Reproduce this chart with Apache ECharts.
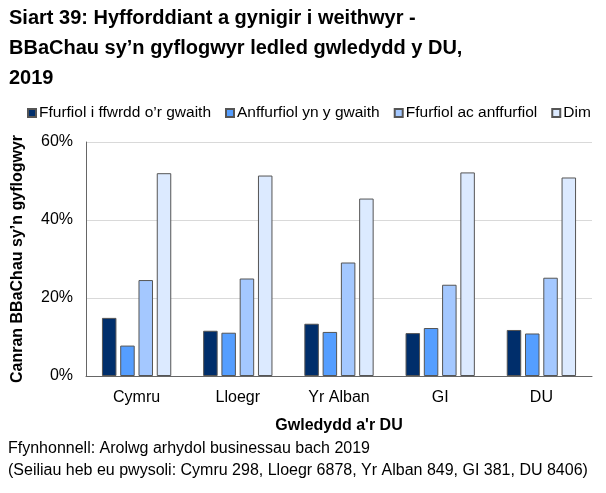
<!DOCTYPE html>
<html><head><meta charset="utf-8">
<script src="https://cdn.jsdelivr.net/npm/echarts@6/dist/echarts.min.js"></script>
<style>html,body{margin:0;padding:0;background:#fff}#c{width:606px;height:493px}</style>
</head><body><div id="c"></div>
<script>
const categories = ['Cymru', 'Lloegr', 'Yr Alban', 'GI', 'DU'];
const seriesNames = ['Ffurfiol i ffwrdd o\u2019r gwaith', 'Anffurfiol yn y gwaith', 'Ffurfiol ac anffurfiol', 'Dim'];
const formalOff = [14.9, 11.6, 13.4, 11.0, 11.8];
const informalOn = [7.8, 11.1, 11.3, 12.3, 10.9];
const both = [24.6, 25.0, 29.1, 23.4, 25.2];
const none = [52.0, 51.4, 45.5, 52.2, 50.9];
const yTicks = [0, 20, 40, 60];
const colors = ['#002e6b', '#559eff', '#a4c8ff', '#dceaff'];
const values = [formalOff, informalOn, both, none];
const footer1 = 'Ffynhonnell: Arolwg arhydol businessau bach 2019';
const footer2 = '(Seiliau heb eu pwysoli: Cymru 298, Lloegr 6878, Yr Alban 849, GI 381, DU 8406)';

const font = 'Liberation Sans, Arial, sans-serif';
const chart = echarts.init(document.getElementById('c'));
chart.setOption({
  animation: false,
  textStyle: {fontFamily: font},
  title: {
    text: 'Siart 39: Hyfforddiant a gynigir i weithwyr -\nBBaChau sy\u2019n gyflogwyr ledled gwledydd y DU,\n2019',
    left: 4, top: -2,
    textStyle: {fontSize: 20, fontWeight: 'bold', color: '#000', lineHeight: 30, fontFamily: font}
  },
  legend: {
    top: 100, left: 22,
    itemWidth: 8, itemHeight: 8, itemGap: 14,
    icon: 'rect',
    textStyle: {fontSize: 15.5, color: '#000', fontFamily: font, padding: [0,0,0,-2]},
    data: seriesNames
  },
  grid: {left: 86, right: 14, top: 142, bottom: 117, containLabel: false},
  xAxis: {
    type: 'category', data: categories,
    name: 'Gwledydd a\'r DU', nameLocation: 'middle', nameGap: 42,
    nameTextStyle: {fontSize: 16, fontWeight: 'bold', color: '#000', fontFamily: font},
    axisLine: {lineStyle: {color: '#666'}},
    axisTick: {show: false},
    axisLabel: {fontSize: 16, color: '#000', margin: 14, fontFamily: font}
  },
  yAxis: {
    type: 'value', min: 0, max: 60, interval: 20,
    name: 'Canran BBaChau sy\u2019n gyflogwyr', nameLocation: 'middle', nameGap: 60,
    nameTextStyle: {fontSize: 16, fontWeight: 'bold', color: '#000', fontFamily: font},
    axisLine: {show: true, lineStyle: {color: '#666'}},
    axisTick: {show: false},
    axisLabel: {fontSize: 16, color: '#000', margin: 13, formatter: v => yTicks.includes(v) ? v + '%' : '', fontFamily: font},
    splitLine: {lineStyle: {color: '#d9d9d9'}}
  },
  graphic: [
    {type: 'text', left: 8, top: 441, style: {text: footer1, fontSize: 16, fill: '#000', fontFamily: font}},
    {type: 'text', left: 8, top: 463, style: {text: footer2, fontSize: 16, fill: '#000', fontFamily: font}}
  ],
  series: values.map((d, i) => ({
    name: seriesNames[i], type: 'bar', data: d,
    barWidth: 14.5, barGap: '26%',
    itemStyle: {color: colors[i], borderColor: '#555', borderWidth: 1}
  }))
});
</script></body></html>
